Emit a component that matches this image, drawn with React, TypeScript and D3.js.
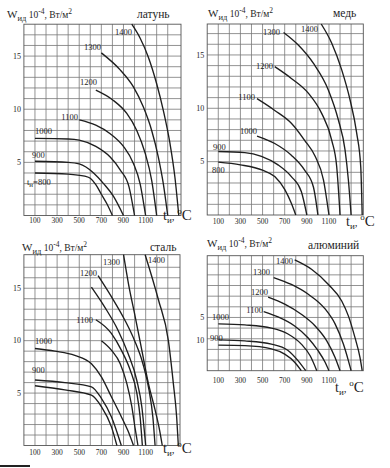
import * as d3 from "d3";

type Pt = [number, number];

const SERIF = "'Liberation Serif', 'DejaVu Serif', serif";

// x-axis ticks (t_и, °C), shared by all panels
const xTicks = [100, 300, 500, 700, 900, 1100];

// ---- латунь ----
const brassT = ["800", "900", "1000", "1100", "1200", "1300", "1400"];
const brass800: Pt[] = [[100, 4.0], [400, 3.9], [550, 3.7], [600, 3.5], [650, 2.9], [700, 2.0], [750, 1.1], [800, 0]];
const brass900: Pt[] = [[100, 5.1], [400, 5.0], [500, 4.85], [630, 4.0], [720, 3.0], [810, 1.8], [900, 0]];
const brass1000: Pt[] = [[100, 7.25], [400, 7.2], [500, 7.1], [650, 6.5], [780, 5.5], [870, 4.3], [950, 2.7], [1000, 0]];
const brass1100: Pt[] = [[500, 9.0], [650, 8.5], [780, 7.7], [900, 6.5], [990, 4.9], [1050, 3.0], [1100, 0]];
const brass1200: Pt[] = [[650, 11.8], [800, 10.9], [930, 9.6], [1020, 8.0], [1095, 5.9], [1155, 3.3], [1200, 0]];
const brass1300: Pt[] = [[700, 15.3], [870, 13.7], [990, 12.1], [1080, 10.2], [1155, 8.0], [1215, 5.5], [1260, 3.0], [1300, 0]];
const brass1400: Pt[] = [[975, 18], [1050, 16.7], [1125, 14.9], [1200, 12.4], [1260, 9.9], [1320, 6.8], [1365, 3.6], [1400, 0]];
const brassYTicks = [5, 10, 15];

// ---- медь ----
const copperT = ["800", "900", "1000", "1100", "1200", "1300", "1400"];
const copper800: Pt[] = [[100, 4.95], [300, 4.7], [500, 4.2], [610, 3.6], [700, 2.4], [760, 1.1], [800, 0]];
const copper900: Pt[] = [[100, 5.95], [340, 5.85], [490, 5.5], [640, 4.7], [760, 3.6], [850, 2.2], [900, 0]];
const copper1000: Pt[] = [[450, 7.4], [610, 6.7], [760, 5.6], [880, 4.2], [960, 2.6], [1000, 0]];
const copper1100: Pt[] = [[450, 10.9], [610, 9.8], [760, 8.6], [880, 7.0], [975, 5.5], [1050, 3.3], [1100, 0]];
const copper1200: Pt[] = [[610, 13.9], [760, 12.8], [915, 11.4], [1035, 9.5], [1125, 7.0], [1170, 4.5], [1200, 0]];
const copper1300: Pt[] = [[690, 17.1], [825, 15.9], [960, 14.2], [1095, 11.7], [1185, 8.9], [1245, 6.1], [1275, 3.3], [1300, 0]];
const copper1400: Pt[] = [[1030, 17.9], [1125, 16.1], [1215, 13.6], [1290, 10.8], [1350, 7.7], [1387, 4.5], [1400, 0]];
const copperYTicks = [5, 10, 15];

// ---- сталь ----
const steelT = ["", "900", "1000", "", "1100", "", "1200", "1300", "1400"];
const steel800: Pt[] = [[100, 5.7], [370, 5.3], [610, 4.8], [700, 3.7], [790, 1.8], [840, 0]];
const steel900: Pt[] = [[100, 6.25], [370, 6.0], [610, 5.6], [700, 4.5], [790, 2.75], [880, 0]];
const steel1000: Pt[] = [[100, 9.25], [280, 9.0], [460, 8.6], [610, 7.8], [700, 6.55], [790, 4.65], [880, 2.75], [940, 1.4], [990, 0]];
const steel1050: Pt[] = [[700, 10.0], [790, 9.1], [870, 7.8], [930, 5.9], [975, 3.7], [1005, 1.6], [1030, 0]];
const steel1100: Pt[] = [[650, 12.0], [790, 10.7], [880, 9.1], [960, 7.2], [1020, 5.0], [1050, 2.7], [1070, 0]];
const steel1150: Pt[] = [[610, 15.1], [730, 13.2], [850, 11.0], [940, 8.8], [1020, 6.2], [1065, 3.7], [1100, 0]];
const steel1200: Pt[] = [[670, 16.2], [790, 14.2], [910, 12.0], [1000, 10.0], [1075, 7.8], [1130, 5.3], [1165, 2.7], [1185, 0]];
const steel1300: Pt[] = [[900, 18.2], [945, 15.4], [1005, 12.3], [1065, 9.1], [1125, 5.9], [1185, 3.4], [1225, 1.5], [1250, 0]];
const steel1400: Pt[] = [[1095, 18.2], [1215, 13.9], [1305, 10.0], [1350, 5.9], [1380, 2.7], [1395, 0]];
const steelYTicks = [5, 10, 15];

// ---- алюминий ----
const alT = ["", "900", "1000", "1100", "1200", "1300", "1400"];
const al800: Pt[] = [[100, 2.4], [340, 2.35], [580, 2.05], [700, 1.55], [790, 0.8], [850, 0]];
const al900: Pt[] = [[100, 2.9], [340, 2.8], [580, 2.5], [730, 1.9], [820, 0.95], [890, 0]];
const al1000: Pt[] = [[100, 4.4], [340, 4.3], [580, 4.0], [730, 3.45], [850, 2.5], [930, 1.4], [990, 0]];
const al1100: Pt[] = [[510, 5.55], [640, 5.05], [790, 4.2], [910, 3.1], [1000, 1.9], [1065, 0.8], [1100, 0]];
const al1200: Pt[] = [[550, 6.9], [700, 6.25], [850, 5.3], [975, 4.2], [1080, 2.8], [1155, 1.25], [1200, 0]];
const al1300: Pt[] = [[600, 8.75], [760, 8.1], [910, 7.2], [1065, 5.8], [1155, 4.4], [1230, 2.5], [1275, 0.95], [1300, 0]];
const al1400: Pt[] = [[790, 10.4], [945, 9.5], [1095, 8.1], [1215, 6.55], [1275, 5.15], [1335, 3.1], [1380, 1.25], [1400, 0]];
// as printed in the source: "10" sits below "5"
const alYTicks = [5, 2.8];
const alYTickText = ["5", "10"];

type Lbl = { x: number; y: number; anchor: "start" | "end" };

// where each curve label sits, in data units (same order as the T arrays)
const brassLbl: Lbl[] = [
  { x: 28, y: 2.87, anchor: "start" }, { x: 73, y: 5.41, anchor: "start" }, { x: 100, y: 7.67, anchor: "start" },
  { x: 489, y: 8.98, anchor: "end" }, { x: 660, y: 12.3, anchor: "end" }, { x: 696, y: 15.57, anchor: "end" },
  { x: 976, y: 16.98, anchor: "end" },
];
const copperLbl: Lbl[] = [
  { x: 43, y: 3.94, anchor: "start" }, { x: 52, y: 6.09, anchor: "start" }, { x: 450, y: 7.59, anchor: "end" },
  { x: 432, y: 10.78, anchor: "end" }, { x: 594, y: 13.68, anchor: "end" }, { x: 658, y: 16.87, anchor: "end" },
  { x: 1001, y: 17.15, anchor: "end" },
];
const steelLbl: Lbl[] = [
  { x: 0, y: 0, anchor: "start" }, { x: 73, y: 6.9, anchor: "start" }, { x: 100, y: 9.67, anchor: "start" },
  { x: 0, y: 0, anchor: "start" }, { x: 624, y: 11.67, anchor: "end" }, { x: 0, y: 0, anchor: "start" },
  { x: 660, y: 16.14, anchor: "end" }, { x: 868, y: 17.19, anchor: "end" }, { x: 1121, y: 17.38, anchor: "start" },
];
const alLbl: Lbl[] = [
  { x: 0, y: 0, anchor: "start" }, { x: 25, y: 2.78, anchor: "start" }, { x: 43, y: 4.75, anchor: "start" },
  { x: 504, y: 5.41, anchor: "end" }, { x: 549, y: 7.09, anchor: "end" }, { x: 567, y: 8.97, anchor: "end" },
  { x: 775, y: 10.0, anchor: "end" },
];

type PanelCfg = {
  material: string;
  frame: { left: number; right: number; top: number; bottom: number };
  xMax: number;
  yMax: number;
  curves: Pt[][];
  names: string[];
  labels: Lbl[];
  yTicks: number[];
  yTickText: string[];
  title: [number, number];
  mat: [number, number];
  axis: [number, number];
  tickDy: number;
};

const panels: PanelCfg[] = [
  {
    material: "латунь",
    frame: { left: 23.9, right: 181, top: 24.2, bottom: 215.5 },
    xMax: 1420, yMax: 18,
    curves: [brass800, brass900, brass1000, brass1100, brass1200, brass1300, brass1400],
    names: brassT, labels: brassLbl,
    yTicks: brassYTicks, yTickText: brassYTicks.map(String),
    title: [7, 18], mat: [137, 18], axis: [163, 220], tickDy: 7.5,
  },
  {
    material: "медь",
    frame: { left: 207.2, right: 363.3, top: 24, bottom: 215 },
    xMax: 1410, yMax: 17.9,
    curves: [copper800, copper900, copper1000, copper1100, copper1200, copper1300, copper1400],
    names: copperT, labels: copperLbl,
    yTicks: copperYTicks, yTickText: copperYTicks.map(String),
    title: [208, 17], mat: [333, 17], axis: [346, 226], tickDy: 8.5,
  },
  {
    material: "сталь",
    frame: { left: 23.9, right: 180, top: 254.7, bottom: 445.5 },
    xMax: 1410, yMax: 18.2,
    curves: [steel800, steel900, steel1000, steel1050, steel1100, steel1150, steel1200, steel1300, steel1400],
    names: steelT, labels: steelLbl,
    yTicks: steelYTicks, yTickText: steelYTicks.map(String),
    title: [22, 251], mat: [150, 251], axis: [163, 453], tickDy: 9,
  },
  {
    material: "алюминий",
    frame: { left: 207.2, right: 363.3, top: 255.7, bottom: 370.7 },
    xMax: 1410, yMax: 10.8,
    curves: [al800, al900, al1000, al1100, al1200, al1300, al1400],
    names: alT, labels: alLbl,
    yTicks: alYTicks, yTickText: alYTickText,
    title: [207, 247], mat: [308, 249], axis: [335, 392], tickDy: 12,
  },
];

const INK = "#1e1e1e";

function Title({ x, y }: { x: number; y: number }) {
  return (
    <text x={x} y={y} fontFamily={SERIF} fill={INK}>
      <tspan fontSize={11}>W</tspan>
      <tspan fontSize={8.5} dy={2.5}>ид</tspan>
      <tspan fontSize={9.5} dy={-2.5}> 10</tspan>
      <tspan fontSize={7.5} dy={-4.5}>-4</tspan>
      <tspan fontSize={9.5} dy={4.5}>, Вт/м</tspan>
      <tspan fontSize={7.5} dy={-4.5}>2</tspan>
    </text>
  );
}

function AxisLabel({ x, y }: { x: number; y: number }) {
  return (
    <text x={x} y={y} fontFamily={SERIF} fill={INK}>
      <tspan fontSize={14}>t</tspan>
      <tspan fontSize={9} dy={3}>и</tspan>
      <tspan fontSize={11} dy={-3}>, </tspan>
      <tspan fontSize={9} dy={-6}>o</tspan>
      <tspan fontSize={15} dy={6}>C</tspan>
    </text>
  );
}

function Panel({ p }: { p: PanelCfg }) {
  const { frame } = p;
  const x = d3.scaleLinear().domain([0, p.xMax]).range([frame.left, frame.right]);
  const y = d3.scaleLinear().domain([0, p.yMax]).range([frame.bottom, frame.top]);
  const line = d3
    .line<Pt>()
    .x((d) => x(d[0]))
    .y((d) => y(d[1]))
    .curve(d3.curveMonotoneX);

  const vGrid = d3.range(100, p.xMax - 20, 100);
  const hGrid = d3.range(1, Math.ceil(p.yMax - 0.3), 1);

  return (
    <g>
      {vGrid.map((v) => (
        <line key={"v" + v} x1={x(v)} x2={x(v)} y1={frame.top} y2={frame.bottom}
          stroke="#777" strokeWidth={0.8} />
      ))}
      {hGrid.map((v) => (
        <line key={"h" + v} x1={frame.left} x2={frame.right} y1={y(v)} y2={y(v)}
          stroke="#777" strokeWidth={0.8} />
      ))}
      <rect x={frame.left} y={frame.top} width={frame.right - frame.left} height={frame.bottom - frame.top}
        fill="none" stroke="#555" strokeWidth={0.9} />

      {p.curves.map((c, i) => (
        <path key={"c" + i} d={line(c) || ""} fill="none" stroke={INK} strokeWidth={1.35} />
      ))}

      {p.names.map((n, i) => {
        if (!n) return null;
        const l = p.labels[i];
        const isFirstBrass = p.material === "латунь" && i === 0;
        return (
          <text key={"l" + i} x={x(l.x)} y={y(l.y)} textAnchor={l.anchor}
            fontFamily={SERIF} fontSize={8.5} fill={INK}>
            {isFirstBrass ? (
              <>
                <tspan>t</tspan>
                <tspan fontSize={7} dy={2}>н</tspan>
                <tspan dy={-2}>{"=" + n}</tspan>
              </>
            ) : n}
          </text>
        );
      })}

      {xTicks.map((t) => (
        <text key={"xt" + t} x={x(t)} y={frame.bottom + p.tickDy} textAnchor="middle"
          fontFamily={SERIF} fontSize={7.5} fill={INK}>{t}</text>
      ))}
      {p.yTicks.map((t, i) => (
        <text key={"yt" + i} x={frame.left - 3} y={y(t) + 2.6} textAnchor="end"
          fontFamily={SERIF} fontSize={8} fill={INK}>{p.yTickText[i]}</text>
      ))}

      <Title x={p.title[0]} y={p.title[1]} />
      <text x={p.mat[0]} y={p.mat[1]} fontFamily={SERIF} fontSize={11.5} fill={INK}>{p.material}</text>
      <AxisLabel x={p.axis[0]} y={p.axis[1]} />
    </g>
  );
}

export default function App() {
  return (
    <svg width={390} height={468} viewBox="0 0 390 468"
      style={{ position: "absolute", left: 0, top: 0, background: "#fff" }}>
      <rect width={390} height={468} fill="#fff" />
      {panels.map((p) => (
        <Panel key={p.material} p={p} />
      ))}
      <line x1={0} x2={30} y1={466} y2={466} stroke="#222" strokeWidth={2} />
    </svg>
  );
}
